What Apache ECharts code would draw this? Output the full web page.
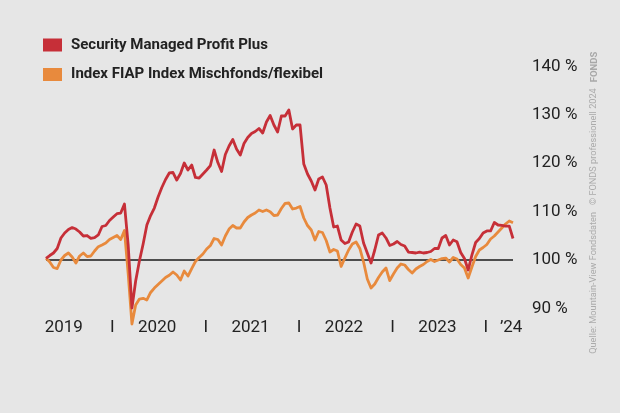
<!DOCTYPE html>
<html>
<head>
<meta charset="utf-8">
<script src="https://cdn.jsdelivr.net/npm/echarts@6/dist/echarts.min.js"></script>
<style>
html,body{margin:0;padding:0;background:#e6e6e6;}
#c{width:620px;height:413px;}
</style>
</head>
<body>
<div id="c"></div>
<script>
const seriesNames = ['Security Managed Profit Plus', 'Index FIAP Index Mischfonds/flexibel'];
const dates = [
2019.29,2019.33,2019.37,2019.41,2019.45,2019.49,2019.53,2019.57,2019.61,2019.65,
2019.69,2019.73,2019.77,2019.81,2019.85,2019.89,2019.93,2019.97,2020.01,2020.05,
2020.09,2020.13,2020.17,2020.21,2020.25,2020.29,2020.33,2020.37,2020.41,2020.45,
2020.49,2020.53,2020.57,2020.61,2020.65,2020.69,2020.73,2020.77,2020.81,2020.85,
2020.89,2020.93,2020.97,2021.01,2021.05,2021.09,2021.13,2021.17,2021.21,2021.25,
2021.29,2021.33,2021.37,2021.41,2021.45,2021.49,2021.53,2021.57,2021.61,2021.65,
2021.69,2021.73,2021.77,2021.81,2021.85,2021.89,2021.93,2021.97,2022.01,2022.05,
2022.09,2022.13,2022.17,2022.21,2022.25,2022.29,2022.33,2022.37,2022.41,2022.45,
2022.49,2022.53,2022.57,2022.61,2022.65,2022.69,2022.73,2022.77,2022.81,2022.85,
2022.89,2022.93,2022.97,2023.01,2023.05,2023.09,2023.13,2023.17,2023.21,2023.25,
2023.29,2023.33,2023.37,2023.41,2023.45,2023.49,2023.53,2023.57,2023.61,2023.65,
2023.69,2023.73,2023.77,2023.81,2023.85,2023.89,2023.93,2023.97,2024.01,2024.05,
2024.09,2024.13,2024.17,2024.21,2024.25,2024.29
];
const redValues = [
100.35,100.93,101.45,102.38,104.55,105.58,106.30,106.71,106.40,105.79,
104.96,105.06,104.48,104.61,105.17,106.92,107.13,108.16,108.88,109.57,
109.71,111.57,103.10,90.08,95.66,99.79,103.31,107.23,109.19,110.74,
113.02,114.98,116.63,117.98,118.08,116.53,117.87,120.04,118.60,119.63,
117.05,116.94,117.77,118.60,119.52,122.73,120.14,118.29,121.80,123.55,
124.90,122.93,121.69,124.07,125.31,126.14,126.55,127.17,126.24,128.51,
129.86,127.89,126.45,129.75,129.75,130.99,127.07,127.89,127.89,119.83,
117.77,116.32,114.46,116.74,117.15,115.50,110.74,106.82,107.02,104.13,
103.41,103.72,105.79,107.44,107.02,103.51,101.45,99.38,102.07,105.17,
105.58,104.55,103.00,103.31,103.82,103.20,102.89,101.65,101.55,101.45,
101.65,101.45,101.55,101.76,102.38,102.38,104.55,105.06,103.10,104.13,
103.78,101.55,100.31,97.93,101.03,103.62,104.44,105.58,106.00,106.00,
107.75,107.23,107.17,107.02,107.02,104.44
];
const orangeValues = [
100.35,99.59,98.45,98.24,100.00,100.93,101.45,100.62,99.38,100.83,
101.45,100.72,100.83,101.86,102.75,103.10,103.51,104.24,104.65,105.06,
104.24,106.10,97.11,86.78,90.70,91.94,92.09,91.74,93.29,94.21,
94.94,95.66,96.38,96.84,97.52,96.90,95.87,97.73,96.69,98.24,
99.69,100.52,101.24,102.27,103.00,104.44,104.24,103.10,104.96,106.40,
107.13,106.61,106.61,107.85,108.78,109.30,109.71,110.33,110.02,110.33,
109.98,109.19,109.30,110.64,111.71,111.78,110.54,110.74,111.05,108.68,
107.13,106.20,104.13,105.89,105.68,104.03,101.65,102.17,101.86,98.66,
100.41,102.07,103.31,103.72,102.38,99.59,96.07,94.21,95.04,96.38,
97.52,98.35,95.76,97.11,98.35,99.17,98.97,98.04,97.31,98.14,
98.66,99.07,99.69,100.10,99.69,100.00,100.31,100.41,99.59,100.52,
100.21,99.07,98.35,96.28,98.55,100.72,102.07,102.58,103.20,104.34,
104.96,105.79,106.61,107.44,108.06,107.71
];
const yTickValues = [90, 100, 110, 120, 130, 140];
const xLabelValues = [2019.48, 2020, 2020.48, 2021, 2021.48, 2022, 2022.48, 2023, 2023.48, 2024, 2024.27];
const xLabelTexts = ['2019', 'I', '2020', 'I', '2021', 'I', '2022', 'I', '2023', 'I', '\u201924'];
const baseline = 100;

const FONT = 'Roboto, "Liberation Sans", sans-serif';
const RED = '#c62f38';
const ORANGE = '#e88a3d';

const chart = echarts.init(document.getElementById('c'), null, {renderer: 'canvas'});
chart.setOption({
  backgroundColor: '#e6e6e6',
  animation: false,
  legend: {
    orient: 'vertical',
    left: 43, top: 37.5, padding: 0,
    itemWidth: 19, itemHeight: 13, itemGap: 14.5,
    icon: 'rect',
    textStyle: {fontFamily: FONT, fontWeight: 'bold', fontSize: 15, lineHeight: 13, color: '#222', padding: [0, 0, 0, 4]},
    data: seriesNames.map(n => ({name: n, icon: 'rect'}))
  },
  grid: {left: 46, right: 107, top: 66.4, bottom: 94.9, outerBoundsMode: 'none', containLabel: false},
  xAxis: {
    type: 'value', min: 2019.29, max: 2024.29,
    axisLine: {show: false}, axisTick: {show: false}, splitLine: {show: false},
    axisLabel: {
      customValues: xLabelValues,
      hideOverlap: false,
      margin: 1,
      fontFamily: FONT, fontSize: 17, color: '#222',
      formatter: v => {
        let best = 0, d = 1e9;
        xLabelValues.forEach((x, i) => { if (Math.abs(x - v) < d) { d = Math.abs(x - v); best = i; } });
        return xLabelTexts[best];
      }
    }
  },
  yAxis: {
    type: 'value', position: 'right', min: 88, max: 140,
    axisLine: {show: false}, axisTick: {show: false}, splitLine: {show: false},
    axisLabel: {
      customValues: yTickValues,
      margin: 19,
      fontFamily: FONT, fontSize: 17, color: '#222',
      formatter: v => v + ' %'
    }
  },
  series: [
    {
      name: seriesNames[1], type: 'line', showSymbol: false, clip: false, z: 2,
      color: ORANGE,
      lineStyle: {color: ORANGE, width: 2.8, join: 'round'},
      itemStyle: {color: ORANGE},
      data: dates.map((d, i) => [d, orangeValues[i]]),
      markLine: {
        silent: true, symbol: 'none', z: 1,
        label: {show: false},
        lineStyle: {color: '#1a1a1a', width: 1.5, type: 'solid'},
        data: [{yAxis: baseline}]
      }
    },
    {
      name: seriesNames[0], type: 'line', showSymbol: false, clip: false, z: 3,
      color: RED,
      lineStyle: {color: RED, width: 2.8, join: 'round'},
      itemStyle: {color: RED},
      data: dates.map((d, i) => [d, redValues[i]])
    }
  ],
  graphic: [
    {
      type: 'text', x: 594, y: 221, rotation: Math.PI / 2,
      style: {
        text: 'Quelle: Mountain-View Fondsdaten   \u00a9 FONDS professionell 2024',
        font: '9.2px ' + FONT, fill: '#ababab', align: 'center', verticalAlign: 'middle'
      }
    },
    {
      type: 'text', x: 595, y: 67, rotation: Math.PI / 2,
      style: {
        text: 'FONDS',
        font: 'bold 9.5px ' + FONT, fill: '#a8a8a8', align: 'center', verticalAlign: 'middle'
      }
    }
  ]
});
</script>
</body>
</html>
